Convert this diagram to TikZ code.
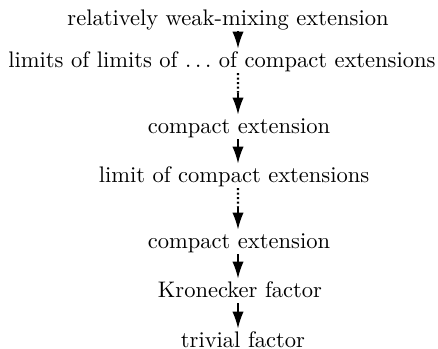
\documentclass[tikz,border=0pt]{standalone}
\usetikzlibrary{arrows.meta, calc}

\begin{document}
\begin{tikzpicture}[
    x=0.444pt, y=-0.444pt,
    lvl/.style={text height=7pt, text depth=1.5pt, inner xsep=2pt,
                inner ysep=1pt, anchor=base},
    arrow/.style={line width=0.7pt, -{Latex[length=7.5pt, width=5pt]}},
    dotline/.style={line width=0.9pt, dash pattern=on 0.9pt off 1.1pt}
]
\useasboundingbox (0,0) rectangle (438,349);

% --- levels of the tower ---
\node[lvl] (rwm)  at (228,25)  {relatively weak-mixing extension};
\node[lvl] (lol)  at (222,67)  {limits of limits of $\ldots$ of compact extensions};
\node[lvl] (ce1)  at (239,133) {compact extension};
\node[lvl] (loc)  at (234,182) {limit of compact extensions};
\node[lvl] (ce2)  at (239,248) {compact extension};
\node[lvl] (kron) at (240,297) {Kronecker factor};
\node[lvl] (triv) at (243,347) {trivial factor};

% --- column of the arrows ---
\coordinate (ax) at (238,0);

% --- plain arrows ---
\draw[arrow] (rwm.south -| ax) -- (lol.north -| ax);
\draw[arrow] (ce1.south -| ax) -- (loc.north -| ax);
\draw[arrow] (ce2.south -| ax) -- (kron.north -| ax);
\draw[arrow] (kron.south -| ax) -- (triv.north -| ax);

% --- dotted-then-solid arrows ---
\coordinate (m1) at ($(lol.south -| ax)!0.47!(ce1.north -| ax)$);
\draw[dotline] (lol.south -| ax) -- (m1);
\draw[arrow] (m1) -- (ce1.north -| ax);

\coordinate (m2) at ($(loc.south -| ax)!0.45!(ce2.north -| ax)$);
\draw[dotline] (loc.south -| ax) -- (m2);
\draw[arrow] (m2) -- (ce2.north -| ax);

\end{tikzpicture}
\end{document}
